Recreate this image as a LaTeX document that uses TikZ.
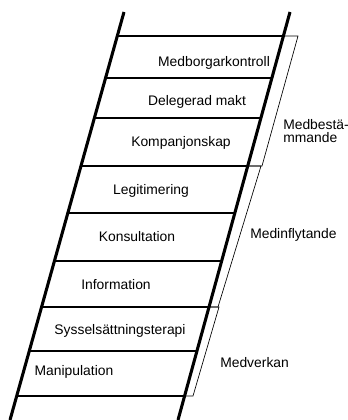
\documentclass[tikz,border=0pt]{standalone}
\usepackage{fontspec}
\setmainfont{Liberation Sans}
\usepackage{tikz}

\begin{document}
\begin{tikzpicture}[x=0.75pt,y=-0.75pt,
    rail/.style={line width=2.3pt},
    rung/.style={line width=1.2pt},
    brace/.style={line width=0.5pt},
    lbl/.style={font=\fontsize{10.4}{10}\selectfont, inner sep=0pt}]
    \useasboundingbox (0,0) rectangle (347,420);
    % stegens ben
    \coordinate (lt) at (124,12);
    \coordinate (lb) at (10,420);
    \coordinate (rt) at (290,12);
    \coordinate (rb) at (178,420);
    \draw[rail] (lt) -- (lb);
    \draw[rail] (rt) -- (rb);
    % pinnar
    \foreach \y in {36,78,118,166,213,261,307,351,396}
        \draw[rung] ({124-0.279*(\y-12)},\y) -- ({290-0.2745*(\y-12)},\y);

    \node[lbl] (kontroll) at (214,63) {Medborgarkontroll};
    \node[lbl] (makt) at (197,102) {Delegerad makt};
    \node[lbl] (kompanjon) at (181,143) {Kompanjonskap};
    \node[lbl] (legitim) at (151,191) {Legitimering};
    \node[lbl] (konsult) at (137,237) {Konsultation};
    \node[lbl] (info) at (116,285) {Information};
    \node[lbl] (terapi) at (120,331) {Sysselsättningsterapi};
    \node[lbl] (manip) at (74,372) {Manipulation};

    % grupper
    \draw[brace] (283.4,36) -- (298,36) -- (262,166) -- (247.7,166);
    \draw[brace] (247.7,166) -- (261,166) -- (218,307) -- (209,307);
    \draw[brace] (209,307) -- (219,307) -- (193,396) -- (184.6,396);

    \node[lbl, anchor=west, align=left] (bestamm) at (283,131) {Medbestä-\\mmande};
    \node[lbl, anchor=west] (inflyt) at (250,235) {Medinflytande};
    \node[lbl, anchor=west] (verkan) at (220,363) {Medverkan};
\end{tikzpicture}
\end{document}
